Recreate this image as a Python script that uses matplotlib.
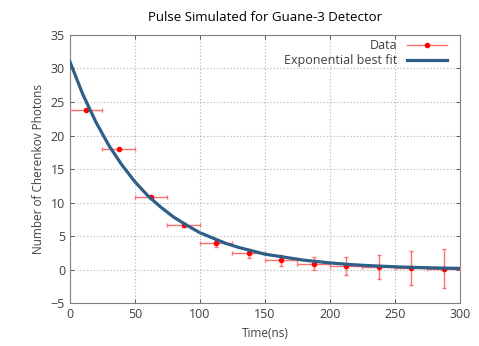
import matplotlib
matplotlib.use("Agg")
import matplotlib.pyplot as plt
from matplotlib.lines import Line2D

# measured pulse (bins of 25 ns)
time_ns = [12.5, 37.5, 62.5, 87.5, 112.5, 137.5, 162.5, 187.5, 212.5, 237.5, 262.5, 287.5]
time_err = [12.5] * 12
photons = [23.8, 18.0, 10.8, 6.6, 3.9, 2.4, 1.4, 0.9, 0.55, 0.35, 0.2, 0.1]
photons_err = [0.2, 0.2, 0.3, 0.3, 0.5, 0.6, 0.8, 1.0, 1.4, 1.8, 2.5, 2.9]

# fitted curve
fit_t = list(range(0, 301, 10))
fit_y = [31.0, 26.1, 22.0, 18.5, 15.6, 13.1, 11.0, 9.3, 7.8, 6.6, 5.5,
         4.7, 3.9, 3.3, 2.8, 2.3, 2.0, 1.7, 1.4, 1.2, 1.0,
         0.84, 0.70, 0.59, 0.50, 0.42, 0.35, 0.30, 0.25, 0.21, 0.18]

plt.rcParams["font.family"] = ["Open Sans", "DejaVu Sans"]
txt = "#404040"

fig = plt.figure(figsize=(4.79, 3.46), dpi=100)
ax = fig.add_axes([0.146, 0.124, 0.814, 0.775])

ax.errorbar(time_ns, photons, xerr=time_err, yerr=photons_err, fmt="o",
            color="#ff0000", ms=3, ecolor="#ff7070", elinewidth=1,
            capsize=1.5, capthick=1, zorder=3)
fit_line, = ax.plot(fit_t, fit_y, color="#2f5f86", lw=2.3, zorder=4)

ax.set_xlim(0, 300)
ax.set_ylim(-5, 35)
ax.set_xticks(range(0, 301, 50))
ax.set_yticks(range(-5, 36, 5))
ax.grid(True, color="#b0b0b0", linestyle=(0, (1, 2)), linewidth=0.8)
ax.tick_params(direction="in", top=True, right=True, labelsize=9,
               colors=txt, length=3, width=0.6)
for s in ax.spines.values():
    s.set_color("#808080")
    s.set_linewidth(0.8)

ax.set_xlabel("Time(ns)", fontsize=8.5, color=txt, labelpad=4)
ax.set_ylabel("Number of Cherenkov Photons", fontsize=8.5, color=txt, labelpad=4)
ax.set_title("Pulse Simulated for Guane-3 Detector", fontsize=9.5, color="black", pad=10)

# gnuplot-style legend key: horizontal bar with a dot
data_key = Line2D([], [], color="#ff7070", lw=1, marker="o", ms=3,
                  markerfacecolor="#ff0000", markeredgecolor="#ff0000")
leg = ax.legend([data_key, fit_line], ["Data", "Exponential best fit"],
                loc="upper right", bbox_to_anchor=(1.0, 1.03),
                frameon=False, markerfirst=False, fontsize=9,
                handlelength=3.2, borderaxespad=0.6, labelspacing=0.15)
for t in leg.get_texts():
    t.set_color(txt)

fig.savefig("out.png", dpi=100)
